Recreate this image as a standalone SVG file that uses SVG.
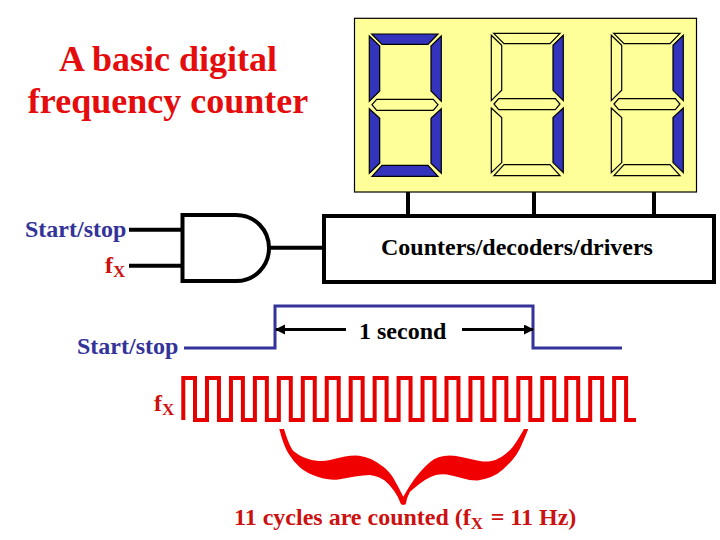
<svg xmlns="http://www.w3.org/2000/svg" width="720" height="540" viewBox="0 0 720 540">
<style>
text{font-family:"Liberation Serif","Times New Roman",serif;font-weight:bold;}
.title{font-size:36px;fill:#e40c0c;text-anchor:middle}
.lab{font-size:24px}
.blue{fill:#333399}.red{fill:#cc1111}.blk{fill:#000}
.on{fill:#3333bb;stroke:#000;stroke-width:1.2}
.off{fill:#ffff99;stroke:#000;stroke-width:1.2}
.w{fill:none;stroke:#000;stroke-width:4}
.b{fill:none;stroke:#333399;stroke-width:3}
</style>
<defs>
<marker id="ah" markerUnits="userSpaceOnUse" markerWidth="12" markerHeight="12" refX="9" refY="5" orient="auto-start-reverse"><path d="M0 0L10 5L0 10z" fill="#000"/></marker>
<polygon id="sa" points="371.7,34 438,34 428,44.3 382,44.3"/>
<polygon id="sb" points="369.3,36 379.7,46 379.7,91 369.3,101.3"/>
<polygon id="sc" points="441.3,36 431,46 431,91 441.3,101.3"/>
<polygon id="sd" points="372,104.7 376.7,99.3 433.3,99.3 438,104.7 433.3,110.3 376.7,110.3"/>
<polygon id="se" points="369.3,108.7 379.7,118.3 379.7,163.3 369.3,173.3"/>
<polygon id="sf" points="441.3,108.7 431,118.3 431,163.3 441.3,173.3"/>
<polygon id="sg" points="372,176.3 382,165.3 428,165.3 438,176.3"/>
</defs>
<text class="title" x="168" y="70.5">A basic digital</text>
<text class="title" x="168" y="113">frequency counter</text>
<g id="display">
<rect x="354.5" y="18.3" width="342" height="173.7" fill="#ffff99" stroke="#000" stroke-width="1.2"/>
<g id="digit1">
<use href="#sa" class="on"/><use href="#sb" class="on"/><use href="#sc" class="on"/><use href="#sd" class="off"/><use href="#se" class="on"/><use href="#sf" class="on"/><use href="#sg" class="on"/>
</g>
<g id="digit2" transform="translate(122,-.7)">
<use href="#sa" class="off"/><use href="#sb" class="off"/><use href="#sc" class="on"/><use href="#sd" class="off"/><use href="#se" class="off"/><use href="#sf" class="on"/><use href="#sg" class="off"/>
</g>
<g id="digit3" transform="translate(242,-.7)">
<use href="#sa" class="off"/><use href="#sb" class="off"/><use href="#sc" class="on"/><use href="#sd" class="off"/><use href="#se" class="off"/><use href="#sf" class="on"/><use href="#sg" class="off"/>
</g>
</g>
<g id="counter">
<rect x="324" y="216" width="390" height="66" fill="#fff" stroke="#000" stroke-width="4"/>
<text class="lab blk" x="381" y="255">Counters/decoders/drivers</text>
</g>
<g id="and-gate">
<path class="w" d="M182.5 215H236C255 215 269 230 269 248C269 266 255 281 236 281H182.5z"/>
</g>
<g id="connectors">
<path class="w" d="M129 229.7H182.5M129 265.7H182.5M270 247.7H324M408 192V216M534 192V216M654 192V216"/>
<path class="b" d="M184 348H275V306H533V348H622"/>
<path fill="none" stroke="#000" stroke-width="3" marker-start="url(#ah)" d="M276 329.5H346"/>
<path fill="none" stroke="#000" stroke-width="3" marker-end="url(#ah)" d="M462 329.5H533"/>
<path fill="none" stroke="#e60000" stroke-width="4" d="M183.3 420V378H195V420H207V378H218.95V420H230.95V378H242.9V420H254.9V378H266.85V420H278.85V378H290.8V420H302.8V378H314.75V420H326.75V378H338.7V420H350.7V378H362.65V420H374.65V378H386.6V420H398.6V378H410.55V420H422.55V378H434.5V420H446.5V378H458.45V420H470.45V378H482.4V420H494.4V378H506.35V420H518.35V378H530.3V420H542.3V378H554.25V420H566.25V378H578.2V420H590.2V378H602.15V420H614.15V378H626.1V420H636"/>
</g>
<g id="brace">
<path fill="#f00000" d="M279.3 429Q283.3 445 288.3 453.3Q293.3 461.7 300 467.5Q306.7 473.3 318.3 477Q330 480.7 338.3 479.5Q346.7 478.3 355 476.6Q363.3 475 370 475Q380 476.7 385 480.8Q390 485 394 490.8Q398.3 496.7 401 504.3L403.3 505L405.7 504.3Q406.5 498 410 491.7Q410 491.7 415 487.5Q420 483.3 425 480Q430 476.7 435 475.3Q440 474 447 474.5Q455 476 462.5 478.3Q470 480.7 477.5 480.5Q485 479 491 477Q496.7 475 502.3 470Q508 465 512.3 460Q516.7 455 520 448.5Q523 442 528.3 429L524 429Q515 445 510.5 449.5Q506 454 501.3 457Q496.7 460 491.3 461Q486 462 481.3 461.3Q476.7 460.7 469.3 458.8Q462 457 456 456Q450 455 444 456Q438 457 434 459.3Q430 461.7 425 466.7Q420 471.7 415 478.3Q410 485 403.3 496.7Q398.3 486.7 394 479.3Q390 472 383.3 466.8Q376.7 461.7 370.8 459Q365 456.5 359 455.7Q353.3 455 345 456.6Q336.7 458.3 330 460Q323.3 461.7 316.7 460.8Q310 460 304 457.5Q298 455 294 451.6Q290 448.3 284 429z"/>
</g>
<g id="labels">
<text class="lab blue" x="25" y="237">Start/stop</text>
<text class="lab red" x="105" y="273">f<tspan font-size="17" dy="4">X</tspan></text>
<text class="lab blue" x="77" y="354">Start/stop</text>
<text class="lab red" x="154" y="411">f<tspan font-size="17" dy="4">X</tspan></text>
<text class="lab blk" x="359" y="339">1 second</text>
<text class="lab red" x="234" y="525">11 cycles are counted (f<tspan font-size="17" dy="4">X</tspan><tspan dy="-4" dx="1.5"> = 11 Hz)</tspan></text>
</g>
</svg>
